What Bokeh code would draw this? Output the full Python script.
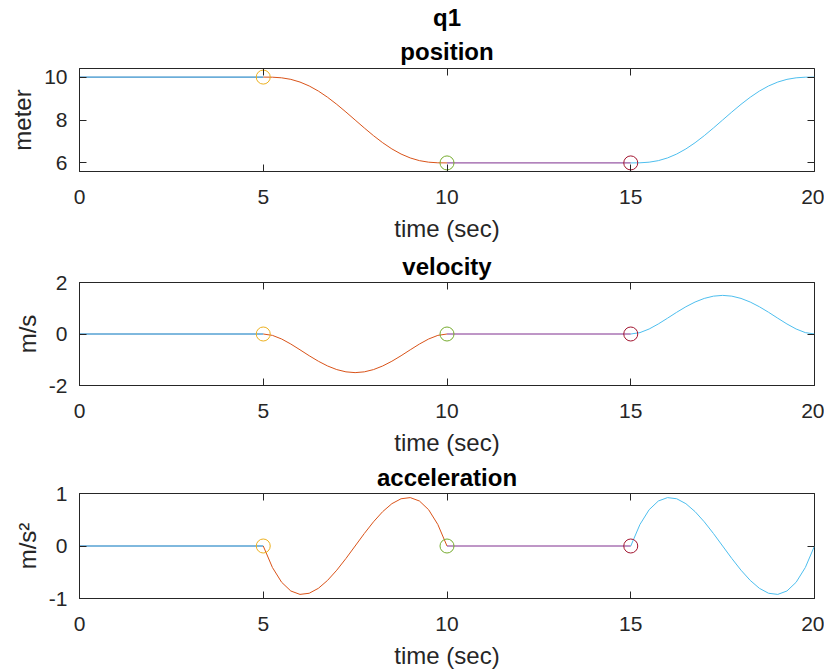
from bokeh.plotting import figure
from bokeh.models import LinearAxis, FixedTicker, Title
from bokeh.layouts import column
from bokeh.embed import file_html
from bokeh.resources import INLINE

# ---------------- data ----------------
x_ticks = [0, 5, 10, 15, 20]

t_seg1 = [0.0, 5.0]
t_seg2 = [5.0, 5.25, 5.5, 5.75, 6.0, 6.25, 6.5, 6.75, 7.0, 7.25, 7.5,
          7.75, 8.0, 8.25, 8.5, 8.75, 9.0, 9.25, 9.5, 9.75, 10.0]
t_seg3 = [10.0, 15.0]
t_seg4 = [15.0, 15.25, 15.5, 15.75, 16.0, 16.25, 16.5, 16.75, 17.0, 17.25, 17.5,
          17.75, 18.0, 18.25, 18.5, 18.75, 19.0, 19.25, 19.5, 19.75, 20.0]
t_marks = [5.0, 10.0, 15.0]

pos_seg1 = [10.0, 10.0]
pos_seg2 = [10.0, 9.995, 9.966, 9.894, 9.768, 9.586, 9.348, 9.059, 8.730, 8.372, 8.0,
            7.628, 7.270, 6.941, 6.652, 6.414, 6.232, 6.106, 6.034, 6.005, 6.0]
pos_seg3 = [6.0, 6.0]
pos_seg4 = [6.0, 6.005, 6.034, 6.106, 6.232, 6.414, 6.652, 6.941, 7.270, 7.628, 8.0,
            8.372, 8.730, 9.059, 9.348, 9.586, 9.768, 9.894, 9.966, 9.995, 10.0]
pos_marks = [10.0, 6.0, 6.0]

vel_seg1 = [0.0, 0.0]
vel_seg2 = [0.0, -0.054, -0.194, -0.390, -0.614, -0.844, -1.058, -1.242, -1.382, -1.470, -1.5,
            -1.470, -1.382, -1.242, -1.058, -0.844, -0.614, -0.390, -0.194, -0.054, 0.0]
vel_seg3 = [0.0, 0.0]
vel_seg4 = [0.0, 0.054, 0.194, 0.390, 0.614, 0.844, 1.058, 1.242, 1.382, 1.470, 1.5,
            1.470, 1.382, 1.242, 1.058, 0.844, 0.614, 0.390, 0.194, 0.054, 0.0]
vel_marks = [0.0, 0.0, 0.0]

acc_seg1 = [0.0, 0.0]
acc_seg2 = [0.0, -0.410, -0.691, -0.857, -0.922, -0.900, -0.806, -0.655, -0.461, -0.238, 0.0,
            0.238, 0.461, 0.655, 0.806, 0.900, 0.922, 0.857, 0.691, 0.410, 0.0]
acc_seg3 = [0.0, 0.0]
acc_seg4 = [0.0, 0.410, 0.691, 0.857, 0.922, 0.900, 0.806, 0.655, 0.461, 0.238, 0.0,
            -0.238, -0.461, -0.655, -0.806, -0.900, -0.922, -0.857, -0.691, -0.410, 0.0]
acc_marks = [0.0, 0.0, 0.0]

pos_ticks = [6, 8, 10]
vel_ticks = [-2, 0, 2]
acc_ticks = [-1, 0, 1]

# ---------------- styling ----------------
FONT = "Liberation Sans"
AX = "#262626"
C_BLUE = "#0072BD"
C_ORANGE = "#D95319"
C_YELLOW = "#EDB120"
C_PURPLE = "#7E2F8E"
C_GREEN = "#77AC30"
C_CYAN = "#4DBEEE"
C_RED = "#A2142F"
LW = 1.0


def style_axis(ax, ticks, labels=True):
    ax.ticker = FixedTicker(ticks=ticks)
    ax.major_tick_line_color = AX
    ax.major_tick_line_width = 1
    ax.major_tick_in = 7
    ax.major_tick_out = 0
    ax.minor_tick_line_color = None
    ax.major_label_text_font = FONT
    if labels:
        ax.axis_line_color = AX
        ax.major_label_text_font_size = "21px"
        ax.major_label_text_color = AX
        ax.major_label_overrides = {t: ("-%d" % abs(t) if t < 0 else "%d" % t) for t in ticks}
    else:
        ax.axis_line_color = None
        ax.major_label_text_font_size = "1px"
        ax.major_label_text_color = None
        ax.major_label_standoff = 0


def make_title(text, standoff):
    return Title(text=text, align="center", text_font=FONT, text_font_size="24px",
                 text_font_style="bold", text_color="black", standoff=standoff)


def panel(titles, yr, yticks, ylabel, segs, marks, top, fh, bottom, tstand):
    p = figure(frame_width=735, frame_height=fh, x_range=(0, 20), y_range=yr,
               output_backend="svg", toolbar_location=None,
               min_border_left=79, min_border_right=10,
               min_border_top=top, min_border_bottom=bottom)
    p.background_fill_color = "white"
    p.border_fill_color = "white"
    p.outline_line_color = AX
    p.outline_line_width = 1
    p.xgrid.visible = False
    p.ygrid.visible = False

    xa = p.below[0]
    ya = p.left[0]

    # top / right tick marks (box on), closest to the frame
    xt = LinearAxis()
    style_axis(xt, x_ticks, labels=False)
    p.add_layout(xt, "above")
    yr_ax = LinearAxis()
    style_axis(yr_ax, yticks, labels=False)
    p.add_layout(yr_ax, "right")

    # titles: first one outermost
    p.title = make_title(titles[0], tstand[0])
    for t, s in zip(titles[1:], tstand[1:]):
        p.add_layout(make_title(t, s), "above")

    style_axis(xa, x_ticks)
    xa.major_label_standoff = 18
    xa.axis_label = "time (sec)"
    xa.axis_label_text_font = FONT
    xa.axis_label_text_font_size = "24px"
    xa.axis_label_text_font_style = "normal"
    xa.axis_label_text_color = AX
    xa.axis_label_standoff = 8

    style_axis(ya, yticks)
    ya.major_label_standoff = 12
    ya.axis_label = ylabel
    ya.axis_label_text_font = FONT
    ya.axis_label_text_font_size = "24px"
    ya.axis_label_text_font_style = "normal"
    ya.axis_label_text_color = AX
    ya.axis_label_standoff = 5

    (ts1, ys1), (ts2, ys2), (ts3, ys3), (ts4, ys4) = segs
    p.line(ts1, ys1, line_color=C_BLUE, line_width=LW)
    p.line(ts2, ys2, line_color=C_ORANGE, line_width=LW)
    p.scatter([t_marks[0]], [marks[0]], marker="circle", size=14, fill_color=None,
              line_color=C_YELLOW, line_width=LW)
    p.line(ts3, ys3, line_color=C_PURPLE, line_width=LW)
    p.scatter([t_marks[1]], [marks[1]], marker="circle", size=14, fill_color=None,
              line_color=C_GREEN, line_width=LW)
    p.line(ts4, ys4, line_color=C_CYAN, line_width=LW)
    p.scatter([t_marks[2]], [marks[2]], marker="circle", size=14, fill_color=None,
              line_color=C_RED, line_width=LW)
    return p


p1 = panel(["q1", "position"], (5.6, 10.4), pos_ticks, "meter",
           [(t_seg1, pos_seg1), (t_seg2, pos_seg2), (t_seg3, pos_seg3), (t_seg4, pos_seg4)],
           pos_marks, 68, 103, 73, [2, 8])
p2 = panel(["velocity"], (-2, 2), vel_ticks, "m/s",
           [(t_seg1, vel_seg1), (t_seg2, vel_seg2), (t_seg3, vel_seg3), (t_seg4, vel_seg4)],
           vel_marks, 38, 103, 73, [6])
p3 = panel(["acceleration"], (-1, 1), acc_ticks, "m/s²",
           [(t_seg1, acc_seg1), (t_seg2, acc_seg2), (t_seg3, acc_seg3), (t_seg4, acc_seg4)],
           acc_marks, 35, 105, 72, [6])

layout = column(p1, p2, p3, spacing=0)
open("out.html", "w").write(file_html(layout, INLINE))
